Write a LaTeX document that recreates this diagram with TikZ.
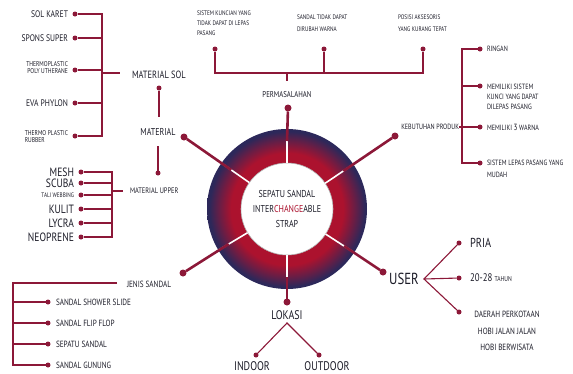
\documentclass[tikz,border=0pt]{standalone}
\usepackage{fontspec}
\setmainfont{PT Sans}[FakeStretch=0.8]
\usetikzlibrary{calc}
\definecolor{mar}{RGB}{140,24,56}
\definecolor{navy}{RGB}{44,40,90}
\definecolor{ringred}{RGB}{172,18,46}
\definecolor{ink}{RGB}{28,28,40}
\pgfdeclareradialshading{ringshade}{\pgfpoint{0bp}{0bp}}{color(0bp)=(ringred); color(17.5bp)=(ringred); color(21bp)=(ringred!50!navy); color(24.3bp)=(navy); color(50bp)=(navy)}
\newcommand\myfs[2]{\fontsize{#1}{#2}\selectfont}
\tikzset{
  link/.style={draw=mar, line width=1.1pt},
  spoke/.style={draw=mar, line width=2.6pt},
  wspoke/.style={draw=white, line width=1.6pt},
  dot/.style={circle, fill=mar, inner sep=0pt, minimum size=5pt, outer sep=0pt},
  bigdot/.style={circle, fill=mar, inner sep=0pt, minimum size=7pt, outer sep=0pt},
  lbl/.style={inner sep=0pt, outer sep=0pt, text=ink},
}
\begin{document}
\begin{tikzpicture}[x=1pt,y=-1pt]
\useasboundingbox (0,0) rectangle (573,373);

% ---------- central ring ----------
\node[circle, minimum size=160pt, inner sep=0pt, outer sep=0pt, shading=ringshade] (ring) at (287,209) {};
\node[circle, minimum size=92pt, inner sep=0pt, outer sep=0pt, fill=white, draw=gray!60, line width=0.6pt,
      align=center, text=ink, font=\myfs{10}{15}] (core) at (287,209)
      {SEPATU SANDAL\\INTER\textcolor{ringred}{CHANGE}ABLE\\STRAP};
\foreach \a in {90,34,-33,-90,211.6,145}
  \draw[wspoke] (core.\a) -- (ring.\a);

% spoke dots
\node[bigdot] (d-perm) at (288,108) {};
\node[bigdot] (d-keb)  at (395,136) {};
\node[bigdot] (d-user) at (383,272) {};
\node[bigdot] (d-lok)  at (287,302) {};
\node[bigdot] (d-jen)  at (183,273) {};
\node[bigdot] (d-mat)  at (184,137) {};
\draw[spoke] (d-perm) -- ($(ring.center)!0.85!(ring.90)$);
\draw[spoke] (d-keb)  -- ($(ring.center)!0.85!(ring.34)$);
\draw[spoke] (d-user) -- ($(ring.center)!0.85!(ring.-33)$);
\draw[spoke] (d-lok)  -- ($(ring.center)!0.85!(ring.-90)$);
\draw[spoke] (d-jen)  -- ($(ring.center)!0.85!(ring.211.6)$);
\draw[spoke] (d-mat)  -- ($(ring.center)!0.85!(ring.145)$);

% ---------- PERMASALAHAN ----------
\node[lbl, font=\myfs{8.5}{10}] (perm) at (287,95) {PERMASALAHAN};
\coordinate (pm) at (287,81);
\coordinate (pj) at (287,73);
\node[dot] (p1) at (215,49) {};
\node[dot] (p2) at (324,49) {};
\node[dot] (p3) at (423,49) {};
\draw[link] (p1) -- (p1 |- pj) -- (p3 |- pj) -- (p3);
\draw[link] (p2) -- (p2 |- pj);
\draw[link] (pj) -- (pm);
\node[lbl, anchor=north west, align=left, font=\myfs{6.6}{10}] (pt1) at (197,10.5) {SISTEM KUNCIAN YANG\\TIDAK DAPAT DI LEPAS\\PASANG};
\node[lbl, anchor=north west, align=left, font=\myfs{6.6}{12}] (pt2) at (297,14.5) {SANDAL TIDAK DAPAT\\DIRUBAH WARNA};
\node[lbl, anchor=north west, align=left, font=\myfs{6.6}{12}] (pt3) at (398,14.5) {POSISI AKSESORIS\\YANG KURANG TEPAT};

% ---------- KEBUTUHAN PRODUK ----------
\node[lbl, anchor=east, font=\myfs{7.6}{8}] (keb) at (459,127) {KEBUTUHAN PRODUK};
\coordinate (kv) at (462,127);
\node[dot] (k1) at (480,49) {};
\node[dot] (k2) at (480,86) {};
\node[dot] (k3) at (480,127) {};
\node[dot] (k4) at (480,163) {};
\draw[link] (k1) -| (kv);
\draw[link] (k4) -| (kv);
\draw[link] (k2) -- (k2 -| kv);
\draw[link] (keb.east) -- (k3);
\node[lbl, anchor=west, font=\myfs{7.6}{10}] (kt1) at (487,49) {RINGAN};
\node[lbl, anchor=north west, align=left, font=\myfs{7.6}{10}] (kt2) at (487,84) {MEMILIKI SISTEM\\KUNCI YANG DAPAT\\DILEPAS PASANG};
\node[lbl, anchor=west, font=\myfs{7.6}{10}] (kt3) at (487,127) {MEMILIKI {\myfs{9}{10}3} WARNA};
\node[lbl, anchor=north west, align=left, font=\myfs{7.6}{12}] (kt4) at (487,160) {SISTEM LEPAS PASANG YANG\\MUDAH};

% ---------- MATERIAL ----------
\node[lbl, font=\myfs{10}{12}] (mat) at (158,132) {MATERIAL};
\node[lbl, anchor=west, font=\myfs{10.5}{12}] (matsol) at (132,75) {MATERIAL SOL};
\node[dot] (msd) at (159,88) {};
\coordinate (m-top) at (159,117);
\draw[link] (msd) -- (m-top);
\coordinate (m-bot) at (158,146);
\node[dot] (mud) at (158,173) {};
\draw[link] (m-bot) -- (mud);
\node[lbl, anchor=west, font=\myfs{8}{10}] (matup) at (130,191) {MATERIAL UPPER};

% material sol items
\coordinate (msv) at (102,73);
\coordinate (msl) at (120,73);
\node[dot] (ms1) at (75,14) {};
\node[dot] (ms2) at (75,38) {};
\node[dot] (ms3) at (75,70) {};
\node[dot] (ms4) at (75,103) {};
\node[dot] (ms5) at (75,136) {};
\draw[link] (ms1) -| (msv);
\draw[link] (ms5) -| (msv);
\draw[link] (ms2) -- (ms2 -| msv);
\draw[link] (ms3) -- (ms3 -| msv);
\draw[link] (ms4) -- (ms4 -| msv);
\draw[link] (msv) -- (msl);
\node[lbl, anchor=east, font=\myfs{9.5}{11}] (mst1) at (68,14) {SOL KARET};
\node[lbl, anchor=east, font=\myfs{9.5}{11}] (mst2) at (68,38) {SPONS SUPER};
\node[lbl, anchor=east, align=right, font=\myfs{7}{7.5}] (mst3) at (68,67.5) {THERMOPLASTIC\\POLY UTHERANE};
\node[lbl, anchor=east, font=\myfs{9.5}{11}] (mst4) at (68,103) {EVA PHYLON};
\node[lbl, anchor=east, align=left, font=\myfs{7}{7.5}] (mst5) at (68,136.5) {THERMO PLASTIC\\RUBBER};

% material upper items
\coordinate (muv) at (112,191);
\coordinate (mul) at (123,191);
\node[dot] (mu1) at (81,172) {};
\node[dot] (mu2) at (81,183) {};
\node[dot] (mu3) at (81,195) {};
\node[dot] (mu4) at (81,209) {};
\node[dot] (mu5) at (81,223) {};
\node[dot] (mu6) at (81,237) {};
\draw[link] (mu1) -| (muv);
\draw[link] (mu6) -| (muv);
\foreach \n in {mu2,mu3,mu4,mu5} \draw[link] (\n) -- (\n -| muv);
\draw[link] (muv) -- (mul);
\node[lbl, anchor=east, font=\myfs{12}{12}] (mut1) at (74,172) {MESH};
\node[lbl, anchor=east, font=\myfs{12}{12}] (mut2) at (74,183) {SCUBA};
\node[lbl, anchor=east, font=\myfs{6.5}{8}] (mut3) at (74,195) {TALI WEBBING};
\node[lbl, anchor=east, font=\myfs{12}{12}] (mut4) at (74,209) {KULIT};
\node[lbl, anchor=east, font=\myfs{12}{12}] (mut5) at (74,223) {LYCRA};
\node[lbl, anchor=east, font=\myfs{12}{12}] (mut6) at (74,237) {NEOPRENE};

% ---------- JENIS SANDAL ----------
\node[lbl, anchor=west, font=\myfs{9}{10}] (jen) at (127,284) {JENIS SANDAL};
\coordinate (j0) at (117,283);
\coordinate (jv) at (13,283);
\node[dot] (j1) at (48,302) {};
\node[dot] (j2) at (48,323) {};
\node[dot] (j3) at (48,344) {};
\node[dot] (j4) at (48,365) {};
\draw[link] (j0) -- (jv) |- (j4);
\foreach \n in {j1,j2,j3} \draw[link] (\n) -- (\n -| jv);
\node[lbl, anchor=west, font=\myfs{9}{10}] (jt1) at (56,302) {SANDAL SHOWER SLIDE};
\node[lbl, anchor=west, font=\myfs{9}{10}] (jt2) at (56,323) {SANDAL FLIP FLOP};
\node[lbl, anchor=west, font=\myfs{9}{10}] (jt3) at (56,344) {SEPATU SANDAL};
\node[lbl, anchor=west, font=\myfs{9}{10}] (jt4) at (56,365) {SANDAL GUNUNG};

% ---------- LOKASI ----------
\node[lbl, font=\myfs{12.5}{13}] (lok) at (287,315) {LOKASI};
\coordinate (lf) at (287,323);
\node[dot] (l1) at (256,355) {};
\node[dot] (l2) at (319,355) {};
\draw[link] (l1) -- (lf) -- (l2);
\node[lbl, font=\myfs{12.5}{13}] (lt1) at (252,366) {INDOOR};
\node[lbl, font=\myfs{12.5}{13}] (lt2) at (327,366) {OUTDOOR};

% ---------- USER ----------
\node[lbl, font=\myfs{16}{16}] (user) at (404,279) {USER};
\coordinate (uf) at (424,279);
\node[dot] (u1) at (459,243) {};
\node[dot] (u2) at (459,278) {};
\node[dot] (u3) at (459,312) {};
\draw[link] (u1) -- (uf) -- (u3);
\draw[link] (uf) -- (u2);
\node[lbl, anchor=west, font=\myfs{13}{13}] (ut1) at (470,243) {PRIA};
\node[lbl, anchor=west, font=\myfs{11}{11}] (ut2) at (470,278) {20-28 {\myfs{7}{8}TAHUN}};
\node[lbl, align=center, font=\myfs{9}{16.5}] (ut3) at (507,331) {DAERAH PERKOTAAN\\HOBI JALAN JALAN\\HOBI BERWISATA};
\end{tikzpicture}
\end{document}
